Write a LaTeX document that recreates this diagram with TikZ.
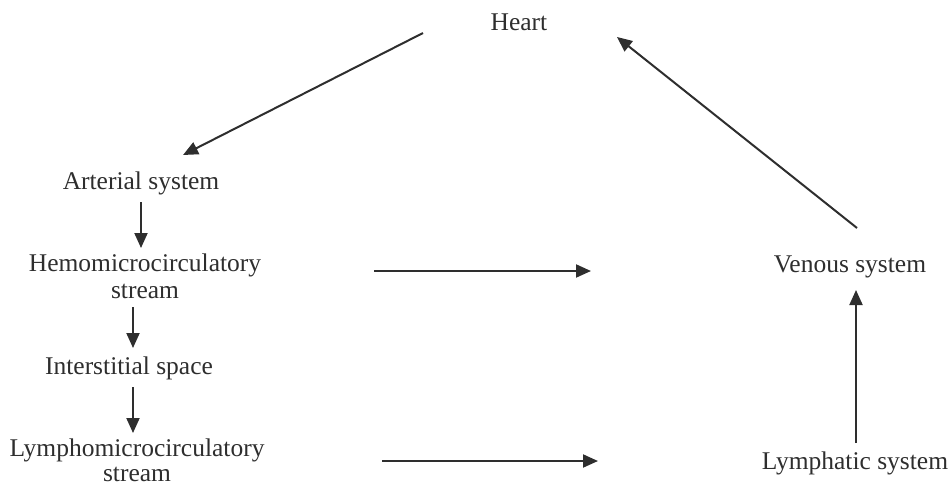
\documentclass[tikz,border=0pt]{standalone}
\usepackage{fontspec}
\setmainfont{Liberation Serif}
\usetikzlibrary{arrows.meta}
\definecolor{ink}{HTML}{2E2E2E}
\begin{document}
\begin{tikzpicture}[x=1pt,y=-1pt,
  lbl/.style={text=ink,font=\fontsize{25.5}{27}\selectfont,align=center,inner sep=0pt},
  arr/.style={draw=ink,line width=2pt,-{Triangle[length=15pt,width=13pt]}},
  plain/.style={draw=ink,line width=2pt}]
\useasboundingbox (0,0) rectangle (950,488);
\node[lbl] (heart) at (519,22) {Heart};
\node[lbl] (arterial) at (141,183) {Arterial system};
\node[lbl] (hemo) at (145,276) {Hemomicrocirculatory\\stream};
\node[lbl] (inter) at (129,368) {Interstitial space};
\node[lbl,font=\fontsize{25.5}{25}\selectfont] (lympho) at (137,460) {Lymphomicrocirculatory\\stream};
\node[lbl] (venous) at (850,267) {Venous system};
\node[lbl] (lymphatic) at (855,463) {Lymphatic system};
\coordinate (h1) at (423,33);
\coordinate (a1) at (183,155);
\coordinate (hemoEnd) at (591,271);
\coordinate (lymEnd) at (598,461);
\coordinate (v1) at (857,228);
\coordinate (h2) at (617,37);
\draw[arr] (h1) -- (a1);
\draw[arr] (141,202) -- (141,248);
\draw[arr] (133,307) -- (133,348);
\draw[arr] (133,387) -- (133,433);
\draw[arr] (374,271) -- (hemoEnd);
\draw[arr] (382,461) -- (lymEnd);
\draw[arr] (856,443) -- (856,290);
\draw[arr] (v1) -- (h2);
\end{tikzpicture}
\end{document}
